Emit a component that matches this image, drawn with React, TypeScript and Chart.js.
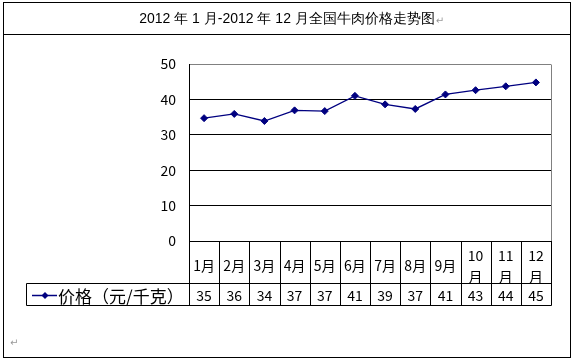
import React, { useEffect, useRef } from 'react';
import { Chart, registerables } from 'chart.js';

Chart.register(...registerables);

const TITLE = '2012 年 1 月-2012 年 12 月全国牛肉价格走势图';
const SERIES_NAME = '价格（元/千克）';
const months = ['1月', '2月', '3月', '4月', '5月', '6月', '7月', '8月', '9月', '10月', '11月', '12月'];
const prices = [34.7, 35.9, 33.9, 36.9, 36.7, 41.0, 38.6, 37.3, 41.4, 42.6, 43.7, 44.8];
const tableValues = ['35', '36', '34', '37', '37', '41', '39', '37', '41', '43', '44', '45'];
const yMin = 0;
const yMax = 50;
const yStep = 10;

const NAVY = '#000080';
const CJK = '"Noto Sans CJK SC", "Noto Sans", sans-serif';

const framePlugin = {
  id: 'framePlugin',
  afterDraw(chart: any) {
    const { ctx, chartArea } = chart;
    const xs = chart.scales.x;
    ctx.save();
    ctx.lineWidth = 1;
    ctx.strokeStyle = '#000';
    // outer boxes
    ctx.strokeRect(3.5, 2.5, 567, 32);
    ctx.strokeRect(3.5, 34.5, 567, 323);

    // title
    ctx.font = '14px "Liberation Sans", Arial, sans-serif';
    ctx.textBaseline = 'middle';
    ctx.textAlign = 'left';
    const tw = ctx.measureText(TITLE).width;
    const tx = 287 - tw / 2;
    ctx.fillStyle = '#000';
    ctx.fillText(TITLE, tx, 19);
    ctx.fillStyle = '#999';
    ctx.font = '10px "DejaVu Sans", sans-serif';
    ctx.fillText('↵', tx + tw + 1, 21);

    // plot area gray right border
    ctx.strokeStyle = '#808080';
    ctx.beginPath();
    ctx.moveTo(Math.round(chartArea.right) + 0.5, Math.round(chartArea.top) + 0.5);
    ctx.lineTo(Math.round(chartArea.right) + 0.5, Math.round(chartArea.bottom));
    ctx.stroke();

    // data table
    const top = Math.round(chartArea.bottom) + 0.5;
    const mid = top + 42;
    const bot = mid + 22;
    const left = Math.round(chartArea.left) + 0.5;
    const right = Math.round(chartArea.right) + 0.5;
    const legLeft = 26.5;
    ctx.strokeStyle = '#000';
    ctx.beginPath();
    ctx.moveTo(left, top); ctx.lineTo(right, top);
    ctx.moveTo(legLeft, mid); ctx.lineTo(right, mid);
    ctx.moveTo(legLeft, bot); ctx.lineTo(right, bot);
    ctx.moveTo(legLeft, mid); ctx.lineTo(legLeft, bot);
    ctx.moveTo(left, top); ctx.lineTo(left, bot);
    ctx.moveTo(right, top); ctx.lineTo(right, bot);
    const n = months.length;
    const cw = (chartArea.right - chartArea.left) / n;
    for (let i = 1; i < n; i++) {
      const px = Math.round(xs.getPixelForValue(i) - cw / 2) + 0.5;
      ctx.moveTo(px, top); ctx.lineTo(px, bot);
    }
    ctx.stroke();

    // table values
    ctx.fillStyle = '#000';
    ctx.font = '14px ' + CJK;
    ctx.textAlign = 'center';
    ctx.textBaseline = 'middle';
    tableValues.forEach((v, i) => {
      ctx.fillText(v, xs.getPixelForValue(i), (mid + bot) / 2 + 1);
    });

    // legend key
    const ly = Math.round((mid + bot) / 2) + 0.5;
    ctx.strokeStyle = NAVY;
    ctx.lineWidth = 1.5;
    ctx.beginPath();
    ctx.moveTo(32, ly); ctx.lineTo(57, ly);
    ctx.stroke();
    ctx.fillStyle = NAVY;
    ctx.beginPath();
    ctx.moveTo(45, ly - 3.5); ctx.lineTo(48.5, ly); ctx.lineTo(45, ly + 3.5); ctx.lineTo(41.5, ly);
    ctx.closePath();
    ctx.fill();
    ctx.fillStyle = '#000';
    ctx.font = '17px ' + CJK;
    ctx.textAlign = 'left';
    ctx.fillText(SERIES_NAME, 58, ly + 1);

    // paragraph mark bottom-left
    ctx.fillStyle = '#999';
    ctx.font = '10px "DejaVu Sans", sans-serif';
    ctx.fillText('↵', 10, 343);
    ctx.restore();
  },
};

export default function App() {
  const ref = useRef<HTMLCanvasElement | null>(null);
  useEffect(() => {
    if (!ref.current) return;
    const labels = months.map((m) => (m.length > 2 ? [m.slice(0, -1), '月'] : m));
    const chart = new Chart(ref.current, {
      type: 'line',
      data: {
        labels,
        datasets: [
          {
            label: SERIES_NAME,
            data: prices,
            borderColor: NAVY,
            backgroundColor: NAVY,
            borderWidth: 1.3,
            pointStyle: 'rectRot',
            pointRadius: 3.5,
            pointBackgroundColor: NAVY,
            pointBorderColor: NAVY,
            pointBorderWidth: 1,
            tension: 0,
          },
        ],
      },
      options: {
        responsive: false,
        animation: false,
        devicePixelRatio: 1,
        layout: { padding: { top: 64, right: 23, left: 0, bottom: 0 } },
        plugins: { legend: { display: false }, tooltip: { enabled: false }, title: { display: false } },
        scales: {
          x: {
            type: 'category',
            offset: true,
            grid: { display: false, drawTicks: false },
            border: { display: true, color: '#000', width: 1 },
            ticks: {
              autoSkip: false,
              maxRotation: 0,
              minRotation: 0,
              color: '#000',
              font: { family: CJK, size: 14, lineHeight: 1.45 },
              padding: 15,
              crossAlign: 'center',
            },
            afterFit: (s: any) => {
              s.height = 359 - 241;
            },
          },
          y: {
            min: yMin,
            max: yMax,
            ticks: {
              stepSize: yStep,
              color: '#000',
              font: { family: CJK, size: 14 },
              padding: 13,
            },
            grid: {
              drawTicks: false,
              color: (c: any) => (c.tick && c.tick.value === yMax ? '#808080' : '#000'),
              lineWidth: 1,
            },
            border: { display: true, color: '#000', width: 1 },
            afterFit: (s: any) => {
              s.width = 189;
            },
          },
        },
      },
      plugins: [framePlugin],
    });
    return () => chart.destroy();
  }, []);
  return (
    <div style={{ position: 'absolute', left: 0, top: 0, width: 574, height: 359, background: '#fff' }}>
      <canvas ref={ref} width={574} height={359} style={{ display: 'block' }} />
    </div>
  );
}
